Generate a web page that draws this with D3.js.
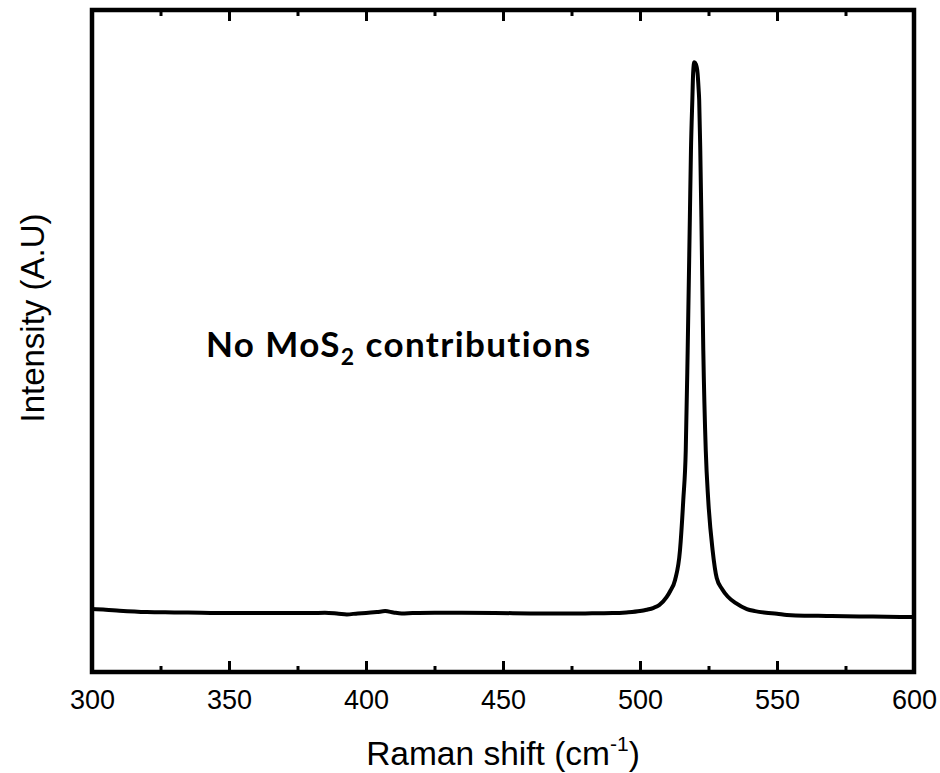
<!DOCTYPE html>
<html><head><meta charset="utf-8">
<script src="https://cdn.jsdelivr.net/npm/d3@7"></script>
<style>body{margin:0;background:#fff}</style>
</head><body>
<svg id="c" width="940" height="773"></svg>
<script>
const shift = [300,305,310,320,330,340,350,365,380,385,390,393,397,400,404,407,410,413,417,425,435,447,460,470,480,490,495,500,502.4,505,507,509.7,511,512.8,514.6,515.8,516.7,517.4,518.2,518.6,519.1,519.4,519.8,520.4,521,521.4,521.6,522.0,522.4,523.1,524.0,524.9,526.5,528.0,530,532,535,539,542,546,550,553.6,560,565,570,580,590,600];
const intensity = [95,94,92.5,90.5,90,89.5,89,89,89,89.5,88,87,88.5,89,90.5,92,90,88.5,89,89.5,89.5,89.2,88.5,88.2,88.5,89,90,92,94,97,101,113,122,139,184,260,335,486,687,788,864,905,921,918,905,880,864,788,687,486,335,260,184,142,125,114,104,95,92,89.5,88,86,85,85,84.5,84,83.5,83];
const xTicks = [300,350,400,450,500,550,600];
const xMinor = [325,375,425,475,525,575];
const xTitle = "Raman shift (cm";
const xTitleSup = "-1";
const yTitle = "Intensity (A.U)";
const note = ["No MoS", "2", " contributions"];

const svg = d3.select("#c");
const L=92,R=914,T=10,B=672;
const x = d3.scaleLinear().domain([300,600]).range([L,R]);
const y = d3.scaleLinear().domain([0,1000]).range([B,T]);

const data = shift.map((s,i)=>[s,intensity[i]]);
svg.append("path").datum(data)
  .attr("fill","none").attr("stroke","#000").attr("stroke-width",4)
  .attr("stroke-linejoin","round").attr("stroke-linecap","round")
  .attr("d", d3.line().x(d=>x(d[0])).y(d=>y(d[1])).curve(d3.curveMonotoneX));

function tickGroup(axisFn, ypos, vals, size, labels){
  const g = svg.append("g").attr("transform",`translate(0,${ypos})`)
    .call(axisFn(x).tickValues(vals).tickSize(size).tickPadding(18).tickFormat(labels ? d3.format("d") : ""));
  g.select(".domain").remove();
  g.selectAll(".tick line").attr("stroke-width",3).attr("stroke","#000");
  return g;
}
const gb = tickGroup(d3.axisBottom, B, xTicks, -11, true);
gb.selectAll(".tick text").attr("font-family","Liberation Sans, Arial, sans-serif").attr("font-size",27).attr("fill","#000");
tickGroup(d3.axisBottom, B, xMinor, -6, false);
tickGroup(d3.axisTop, T, xTicks, -11, false);
tickGroup(d3.axisTop, T, xMinor, -6, false);

svg.append("rect").attr("x",L).attr("y",T).attr("width",R-L).attr("height",B-T)
  .attr("fill","none").attr("stroke","#000").attr("stroke-width",4.5);

const xt = svg.append("text").attr("x",(L+R)/2).attr("y",765).attr("text-anchor","middle")
  .attr("font-family","Liberation Sans, Arial, sans-serif").attr("font-size",33.5).attr("fill","#000");
xt.append("tspan").text(xTitle);
xt.append("tspan").text(xTitleSup).attr("font-size",21).attr("dy",-14);
xt.append("tspan").text(")").attr("dy",14);

svg.append("text").attr("transform","translate(44,318) rotate(-90)").attr("text-anchor","middle")
  .attr("font-family","Liberation Sans, Arial, sans-serif").attr("font-size",33).attr("fill","#000")
  .text(yTitle);

const an = svg.append("text").attr("x",206).attr("y",357)
  .attr("font-family","Lato, 'Open Sans', sans-serif").attr("font-weight","bold").attr("font-size",35)
  .attr("letter-spacing",1.4).attr("fill","#000");
an.append("tspan").text(note[0]);
an.append("tspan").text(note[1]).attr("font-size",23).attr("dy",8);
an.append("tspan").text(note[2]).attr("dy",-8);
</script>
</body></html>
